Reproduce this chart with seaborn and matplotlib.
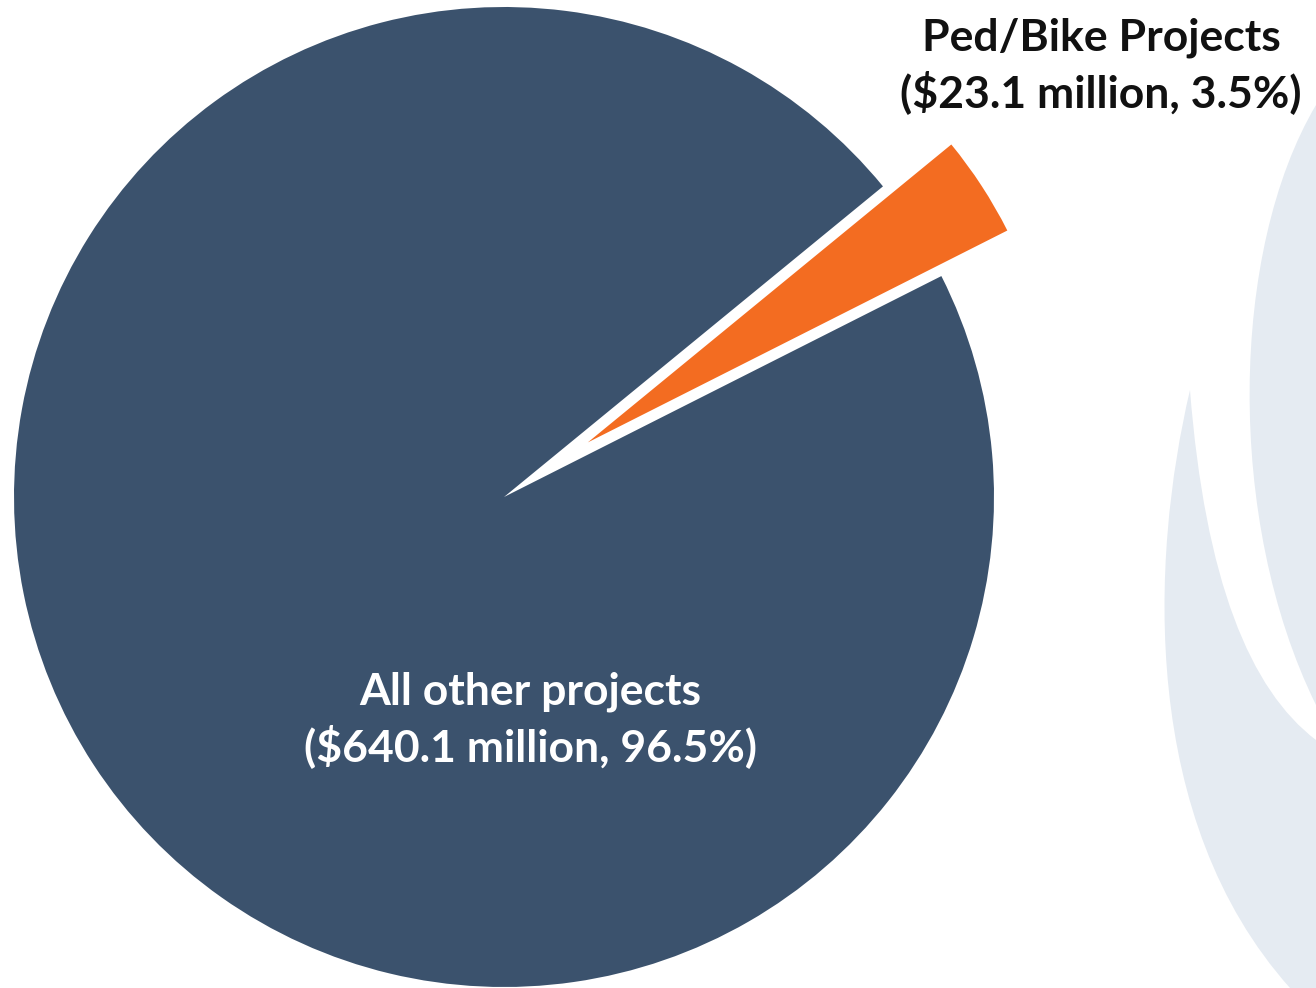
import matplotlib
matplotlib.use("Agg")
import matplotlib.pyplot as plt
import seaborn as sns
from matplotlib.path import Path
from matplotlib.patches import PathPatch

# ---- data ----
categories = ["Ped/Bike Projects", "All other projects"]
amounts_millions = [23.1, 640.1]
percents = [3.5, 96.5]

sns.set_theme(style="white")
plt.rcParams['font.family'] = ['Lato', 'DejaVu Sans']

W, H = 1316, 988
fig = plt.figure(figsize=(W / 100, H / 100), dpi=100)
ax = fig.add_axes([0, 0, 1, 1])
ax.set_xlim(0, W)
ax.set_ylim(0, H)

deco = "#e5ebf2"
def py(y):
    return H - y

# decorative background shapes
verts_a = [(W, py(105)),
           (1230, py(250)), (1225, py(520)), (W, py(705)),
           (W, py(105))]
codes_a = [Path.MOVETO, Path.CURVE4, Path.CURVE4, Path.CURVE4, Path.CLOSEPOLY]
ax.add_patch(PathPatch(Path(verts_a, codes_a), fc=deco, ec="none", zorder=0))

verts_b = [(1190, py(390)),
           (1150, py(560)), (1140, py(820)), (1290, py(H)),
           (W, py(H)),
           (W, py(740)),
           (1250, py(690)), (1205, py(580)), (1190, py(390)),
           (1190, py(390))]
codes_b = [Path.MOVETO, Path.CURVE4, Path.CURVE4, Path.CURVE4,
           Path.LINETO, Path.LINETO,
           Path.CURVE4, Path.CURVE4, Path.CURVE4, Path.CLOSEPOLY]
ax.add_patch(PathPatch(Path(verts_b, codes_b), fc=deco, ec="none", zorder=0))

colors = ["#f36c21", "#3b526d"]
wedges, _ = ax.pie(amounts_millions, colors=colors, startangle=26.8,
                   counterclock=True, explode=[100, 0],
                   center=(504, py(497)), radius=490, frame=True,
                   wedgeprops=dict(linewidth=0))
for w in wedges:
    w.set_zorder(2)
wedges[0].set_radius(470)

ax.set_xlim(0, W)
ax.set_ylim(0, H)
ax.set_aspect("auto")
ax.axis("off")

ax.text(530, py(720),
        f"{categories[1]}\n(${amounts_millions[1]:.1f} million, {percents[1]:.1f}%)",
        ha="center", va="center", color="white", fontsize=32,
        fontweight="bold", linespacing=1.33, zorder=3)
ax.text(1101, py(66),
        f"{categories[0]}\n(${amounts_millions[0]:.1f} million, {percents[0]:.1f}%)",
        ha="center", va="center", color="#111111", fontsize=32,
        fontweight="bold", linespacing=1.33, zorder=3)

fig.savefig("out.png", dpi=100, facecolor="white")
